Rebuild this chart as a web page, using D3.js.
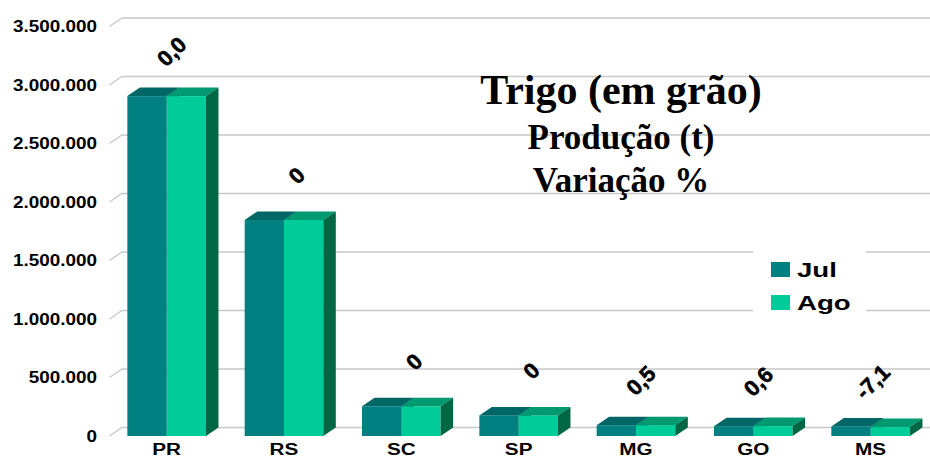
<!DOCTYPE html>
<html>
<head>
<meta charset="utf-8">
<script src="https://cdn.jsdelivr.net/npm/d3@7/dist/d3.min.js"></script>
<style>
  html, body { margin: 0; padding: 0; background: #fff; }
  svg { display: block; }
</style>
</head>
<body>
<div id="chart"></div>
<script>
// Trigo (em grão) — produção (t) Jul vs Ago por UF, rótulos = variação %
const categories = ['PR', 'RS', 'SC', 'SP', 'MG', 'GO', 'MS'];
const seriesNames = ['Jul', 'Ago'];
const julValues = [2905000, 1846000, 254000, 176000, 92000, 84000, 82000];
const agoValues = [2905000, 1846000, 254000, 176000, 92500, 84500, 76200];
const variationLabels = ['0,0', '0', '0', '0', '0,5', '0,6', '-7,1'];
const yTicks = [0, 500000, 1000000, 1500000, 2000000, 2500000, 3000000, 3500000];
const titleLines = ['Trigo (em grão)', 'Produção (t)', 'Variação %'];

const W = 930, H = 459;
const depth = { dx: 12.5, dy: -8.5 };

const colors = {
  Jul: { front: '#008080', top: '#006666', side: '#005a5a' },
  Ago: { front: '#00cc99', top: '#009970', side: '#006644' },
};

const svg = d3.select('#chart').append('svg')
  .attr('width', W).attr('height', H)
  .attr('viewBox', `0 0 ${W} ${H}`);

const y = d3.scaleLinear().domain([0, 3500000]).range([436, 26.5]);
const x = d3.scaleBand().domain(categories).range([108, 929.3])
  .paddingInner(0.33).paddingOuter(0.165);
const xs = d3.scaleBand().domain(seriesNames).range([0, x.bandwidth()]);

const ptFmt = d3.formatLocale({ decimal: ',', thousands: '.', grouping: [3], currency: ['', ''] }).format(',');

// Gridlines on the back wall, with the short floor-to-wall diagonal at left
const axisFrontX = 109.5;
svg.append('g').selectAll('path')
  .data(yTicks)
  .enter().append('path')
  .attr('d', (d) => `M${axisFrontX},${y(d)} L${axisFrontX + depth.dx},${y(d) + depth.dy} L${W},${y(d) + depth.dy}`)
  .attr('fill', 'none')
  .attr('stroke', '#c8c8c8')
  .attr('stroke-width', 1.3);

// Y labels (the source text is horizontally stretched)
svg.append('g').selectAll('text')
  .data(yTicks)
  .enter().append('text')
  .attr('transform', (d) => `translate(97,${y(d) + 5.8}) scale(1.18,1)`)
  .attr('text-anchor', 'end')
  .attr('font-family', 'Liberation Sans, Arial, sans-serif')
  .attr('font-weight', 'bold')
  .attr('font-size', 16)
  .attr('fill', '#000')
  .text((d) => ptFmt(d));

// 3D bars
const rows = categories.map((c, i) => ({ c, i, vals: [julValues[i], agoValues[i]] }));
const barsG = svg.append('g');
rows.forEach((r) => {
  seriesNames.forEach((s, k) => {
    const v = r.vals[k];
    const x0 = x(r.c) + xs(s);
    const w = xs.bandwidth();
    const yt = y(v), yb = y(0);
    const col = colors[s];
    const g = barsG.append('g');
    // front
    g.append('rect')
      .attr('x', x0).attr('y', yt)
      .attr('width', w).attr('height', yb - yt)
      .attr('fill', col.front);
    // top
    g.append('path')
      .attr('d', `M${x0},${yt} L${x0 + w},${yt} L${x0 + w + depth.dx},${yt + depth.dy} L${x0 + depth.dx},${yt + depth.dy} Z`)
      .attr('fill', col.top);
    // right side
    g.append('path')
      .attr('d', `M${x0 + w},${yt} L${x0 + w + depth.dx},${yt + depth.dy} L${x0 + w + depth.dx},${yb + depth.dy} L${x0 + w},${yb} Z`)
      .attr('fill', col.side);
  });
});

// Variation labels, rotated
const lblG = svg.append('g');
rows.forEach((r) => {
  const topBack = y(Math.max(...r.vals)) + depth.dy;
  const t = lblG.append('text')
    .attr('text-anchor', 'middle')
    .attr('dominant-baseline', 'central')
    .attr('font-family', 'Liberation Sans, Arial, sans-serif')
    .attr('font-weight', 'bold')
    .attr('font-size', 22)
    .attr('fill', '#000')
    .attr('stroke', '#000')
    .attr('stroke-width', 0.6)
    .text(variationLabels[r.i]);
  const L = t.node().getComputedTextLength();
  const cx = x(r.c) + x.bandwidth() / 2 + 18 - L * 0.42;
  const cy = topBack - 36;
  t.attr('transform', `translate(${cx},${cy}) rotate(-45)`);
});

// Category labels
svg.append('g').selectAll('text')
  .data(categories)
  .enter().append('text')
  .attr('transform', (d) => `translate(${x(d) + x.bandwidth() / 2},455) scale(1.22,1)`)
  .attr('text-anchor', 'middle')
  .attr('font-family', 'Liberation Sans, Arial, sans-serif')
  .attr('font-weight', 'bold')
  .attr('font-size', 17)
  .attr('fill', '#000')
  .text((d) => d);

// Title block
const titleSizes = [42, 35, 35];
const titleBase = [104, 149, 192];
svg.append('g').selectAll('text')
  .data(titleLines)
  .enter().append('text')
  .attr('x', 621)
  .attr('y', (d, i) => titleBase[i])
  .attr('text-anchor', 'middle')
  .attr('font-family', 'Liberation Serif, Times New Roman, serif')
  .attr('font-weight', 'bold')
  .attr('font-size', (d, i) => titleSizes[i])
  .attr('fill', '#000')
  .text((d) => d);

// Legend
const legend = svg.append('g');
legend.append('rect')
  .attr('x', 753).attr('y', 244).attr('width', 113).attr('height', 74)
  .attr('fill', '#fff');
seriesNames.forEach((s, k) => {
  const ly = 262 + k * 33;
  legend.append('rect')
    .attr('x', 771).attr('y', ly).attr('width', 19).attr('height', 15)
    .attr('fill', colors[s].front);
  legend.append('text')
    .attr('transform', `translate(797,${ly + 15}) scale(1.38,1)`)
    .attr('font-family', 'Liberation Sans, Arial, sans-serif')
    .attr('font-weight', 'bold')
    .attr('font-size', 20)
    .attr('fill', '#000')
    .text(s);
});
</script>
</body>
</html>
